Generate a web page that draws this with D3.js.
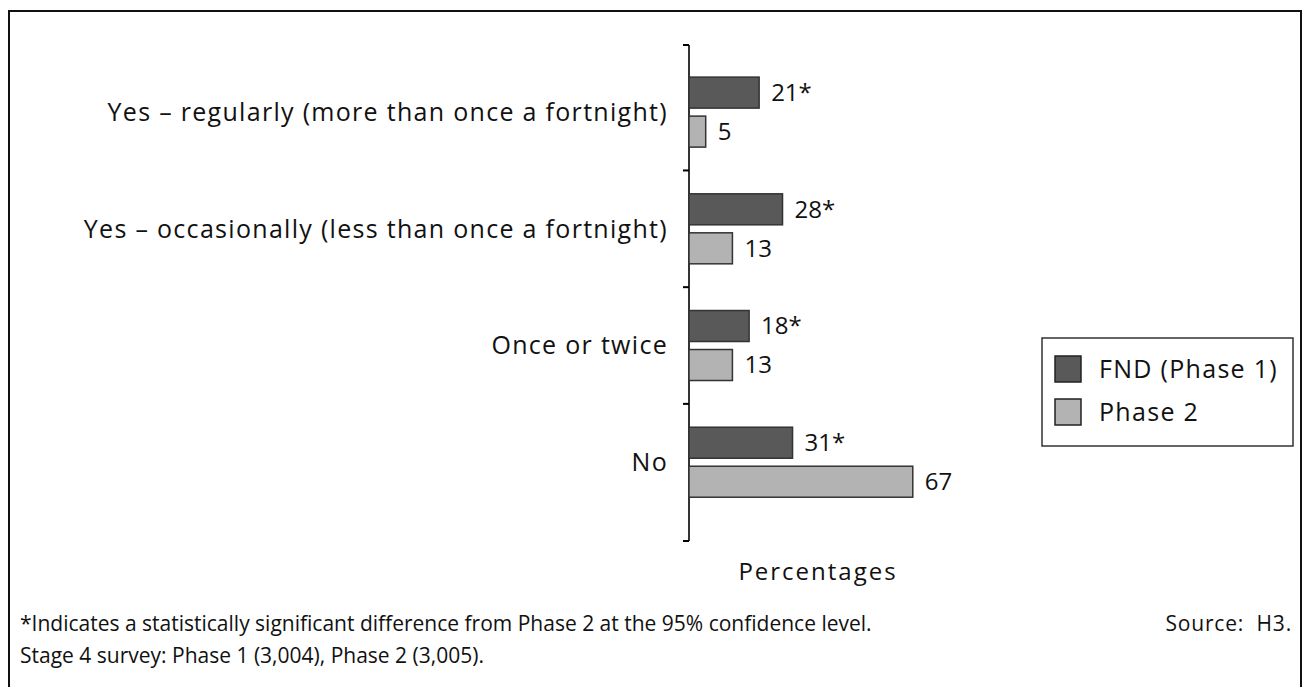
<!DOCTYPE html>
<html>
<head>
<meta charset="utf-8">
<script src="https://cdn.jsdelivr.net/npm/d3@7"></script>
<style>
  body { margin: 0; background: #fff; }
  svg { display: block; }
</style>
</head>
<body>
<div id="chart"></div>
<script>
// Data
var categories = [
    "Yes – regularly (more than once a fortnight)",
    "Yes – occasionally (less than once a fortnight)",
    "Once or twice",
    "No"
];
var seriesNames = ["FND (Phase 1)", "Phase 2"];
var phase1Values = [21, 28, 18, 31];
var phase2Values = [5, 13, 13, 67];
var phase1Labels = ["21*", "28*", "18*", "31*"];
var phase2Labels = ["5", "13", "13", "67"];
var footnotes = [
    "*Indicates a statistically significant difference from Phase 2 at the 95% confidence level.",
    "Stage 4 survey: Phase 1 (3,004), Phase 2 (3,005)."
];
var sourceText = "Source:  H3.";
var axisTitle = "Percentages";

const width = 1310, height = 687;
const labelFont = "'Open Sans', 'Noto Sans', sans-serif";
const colors = ["#595959", "#b3b3b3"];

const svg = d3.select("#chart")
    .append("svg")
    .attr("width", width)
    .attr("height", height);

// Outer frame
svg.append("rect")
    .attr("x", 9)
    .attr("y", 11)
    .attr("width", 1292)
    .attr("height", 700)
    .attr("fill", "none")
    .attr("stroke", "#111")
    .attr("stroke-width", 2);

// Scales
const xScale = d3.scaleLinear()
    .domain([0, 100])
    .range([689, 1023]);

const yScale = d3.scaleBand()
    .domain(categories)
    .range([45, 541])
    .paddingInner(0)
    .paddingOuter(0.125)
    .align(0.3);

const rows = categories.map((c, i) => ({
    category: c,
    values: [
        { series: 0, value: phase1Values[i], label: phase1Labels[i] },
        { series: 1, value: phase2Values[i], label: phase2Labels[i] }
    ]
}));

const barHeight = 31, barGap = 8;
function barY(d, row) {
    const center = yScale(row.category) + yScale.bandwidth() / 2;
    return d.series === 0 ? center - barGap / 2 - barHeight : center + barGap / 2;
}

// Category axis: line plus ticks at band boundaries
const axisG = svg.append("g");
axisG.append("line")
    .attr("x1", xScale(0)).attr("x2", xScale(0))
    .attr("y1", yScale.range()[0]).attr("y2", yScale.range()[1])
    .attr("stroke", "#000").attr("stroke-width", 1.6);

var tickYs = [yScale.range()[0]];
categories.slice(1).forEach(c => tickYs.push(yScale(c)));
tickYs.push(yScale.range()[1]);
axisG.selectAll(".tick")
    .data(tickYs)
    .enter()
    .append("line")
    .attr("x1", xScale(0) - 6).attr("x2", xScale(0))
    .attr("y1", d => d).attr("y2", d => d)
    .attr("stroke", "#000").attr("stroke-width", 2);

// Category labels
svg.selectAll(".cat")
    .data(categories)
    .enter()
    .append("text")
    .attr("class", "cat")
    .attr("x", xScale(0) - 21)
    .attr("y", d => yScale(d) + yScale.bandwidth() / 2)
    .attr("dy", "0.35em")
    .attr("text-anchor", "end")
    .style("font-family", labelFont)
    .style("font-size", "25px")
    .style("letter-spacing", "1.3px")
    .style("fill", "#111")
    .text(d => d);

// Bars
const groups = svg.selectAll(".grp")
    .data(rows)
    .enter()
    .append("g")
    .attr("class", "grp");

groups.selectAll("rect")
    .data(row => row.values.map(v => Object.assign({ row: row }, v)))
    .enter()
    .append("rect")
    .attr("x", xScale(0))
    .attr("y", d => barY(d, d.row))
    .attr("width", d => xScale(d.value) - xScale(0))
    .attr("height", barHeight)
    .attr("fill", d => colors[d.series])
    .attr("stroke", "#333")
    .attr("stroke-width", 1.5);

groups.selectAll(".val")
    .data(row => row.values.map(v => Object.assign({ row: row }, v)))
    .enter()
    .append("text")
    .attr("class", "val")
    .attr("x", d => xScale(d.value) + 12)
    .attr("y", d => barY(d, d.row) + barHeight / 2)
    .attr("dy", "0.35em")
    .style("font-family", labelFont)
    .style("font-size", "24px")
    .style("fill", "#111")
    .text(d => d.label);

// Axis title
svg.append("text")
    .attr("x", 818)
    .attr("y", 572)
    .attr("dy", "0.35em")
    .attr("text-anchor", "middle")
    .style("font-family", labelFont)
    .style("font-size", "24px")
    .style("letter-spacing", "2px")
    .style("fill", "#111")
    .text(axisTitle);

// Legend
const legend = svg.append("g");
legend.append("rect")
    .attr("x", 1042).attr("y", 338)
    .attr("width", 251).attr("height", 108)
    .attr("fill", "#fff")
    .attr("stroke", "#333")
    .attr("stroke-width", 1.5);

seriesNames.forEach((name, i) => {
    legend.append("rect")
        .attr("x", 1055)
        .attr("y", 356 + i * 43)
        .attr("width", 26)
        .attr("height", 26)
        .attr("fill", colors[i])
        .attr("stroke", "#222")
        .attr("stroke-width", 1.5);
    legend.append("text")
        .attr("x", 1099)
        .attr("y", 369 + i * 43)
        .attr("dy", "0.35em")
        .style("font-family", labelFont)
        .style("font-size", "25px")
        .style("letter-spacing", "1.3px")
        .style("fill", "#111")
        .text(name);
});

// Footnotes
footnotes.forEach((t, i) => {
    svg.append("text")
        .attr("x", 20)
        .attr("y", 624 + i * 32)
        .attr("dy", "0.35em")
        .style("font-family", labelFont)
        .style("font-size", "21px")
        .style("fill", "#111")
        .text(t);
});

svg.append("text")
    .attr("x", 1292)
    .attr("y", 624)
    .attr("dy", "0.35em")
    .attr("text-anchor", "end")
    .style("font-family", labelFont)
    .style("font-size", "21px")
    .style("letter-spacing", "0.8px")
    .style("white-space", "pre")
    .style("fill", "#111")
    .text(sourceText);
</script>
</body>
</html>
